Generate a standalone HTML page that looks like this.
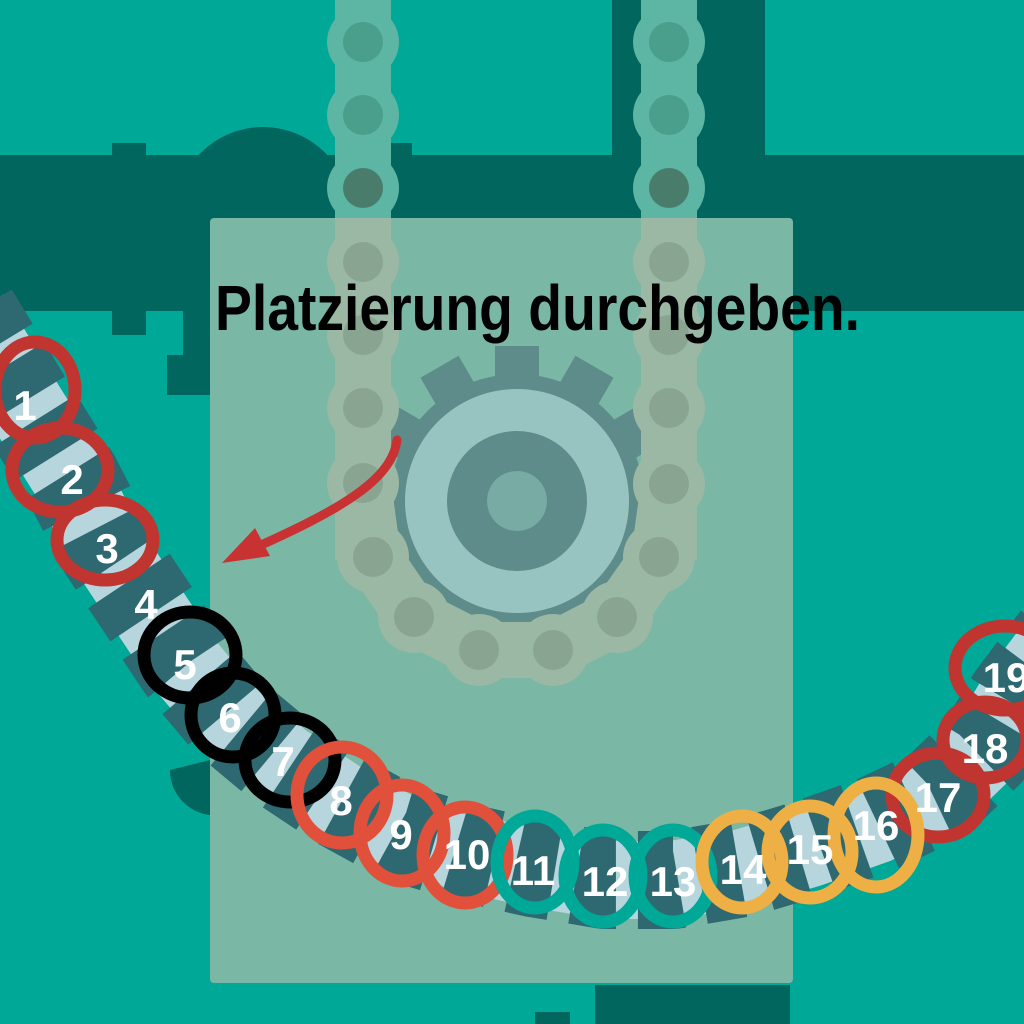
<!DOCTYPE html>
<html><head><meta charset="utf-8"><style>
html,body{margin:0;padding:0;background:#00a898;}
svg{display:block}
</style></head><body>
<svg width="1024" height="1024" viewBox="0 0 1024 1024" xmlns="http://www.w3.org/2000/svg">
<defs>
<clipPath id="pc"><rect x="210" y="218" width="583" height="765" rx="4"/></clipPath>
</defs>
<rect width="1024" height="1024" fill="#00a898"/>
<!-- pipes -->
<g fill="#00665e">
<rect x="0" y="155" width="1024" height="156"/>
<rect x="612" y="0" width="153" height="160"/>
<circle cx="263" cy="215" r="88"/>
<rect x="112" y="143" width="34" height="192"/>
<rect x="378" y="143" width="34" height="192"/>
<rect x="183" y="300" width="30" height="60"/>
<rect x="167" y="355" width="45" height="40"/>
<rect x="595" y="985" width="195" height="39"/>
<rect x="535" y="1012" width="35" height="12"/>
<path d="M170,770 A45,45 0 0 0 210,815 L210,760 Z"/>
</g>
<!-- chain top (outside panel) -->
<g fill="#5db5a3">
<rect x="335" y="0" width="56" height="560"/>
<rect x="641" y="0" width="56" height="560"/>
<circle cx="363" cy="42" r="36"/><circle cx="363" cy="115" r="36"/><circle cx="363" cy="188" r="36"/>
<circle cx="669" cy="42" r="36"/><circle cx="669" cy="115" r="36"/><circle cx="669" cy="188" r="36"/>
</g>
<g fill="#4a9e8c">
<circle cx="363" cy="42" r="20"/><circle cx="363" cy="115" r="20"/><circle cx="363" cy="188" r="20" fill="#4a7c6c"/>
<circle cx="669" cy="42" r="20"/><circle cx="669" cy="115" r="20"/><circle cx="669" cy="188" r="20" fill="#4a7c6c"/>
</g>
<!-- panel -->
<rect x="210" y="218" width="583" height="765" rx="4" fill="#7ab8a5"/>
<!-- gear -->
<g fill="#5e8c8a" transform="translate(517,501)">
<circle r="127"/>
<g id="t"><rect x="-22" y="-155" width="44" height="40"/></g>
<use href="#t" transform="rotate(30)"/><use href="#t" transform="rotate(60)"/><use href="#t" transform="rotate(90)"/>
<use href="#t" transform="rotate(120)"/><use href="#t" transform="rotate(150)"/><use href="#t" transform="rotate(180)"/>
<use href="#t" transform="rotate(210)"/><use href="#t" transform="rotate(240)"/><use href="#t" transform="rotate(270)"/>
<use href="#t" transform="rotate(300)"/><use href="#t" transform="rotate(330)"/>
<circle r="112" fill="#97c4c0"/>
<circle r="70" fill="#5e8c8a"/>
<circle r="30" fill="#77aba3"/>
</g>
<!-- chain in panel -->
<g clip-path="url(#pc)">
<rect x="335" y="0" width="56" height="560" fill="#9bb8a5"/>
<rect x="641" y="0" width="56" height="560" fill="#9bb8a5"/>
<path d="M363,483 L373,557 L414,617 L479,650 L553,650 L617,617 L659,557 L669,484" fill="none" stroke="#9bb8a5" stroke-width="56" stroke-linejoin="round"/>
<g fill="#9bb8a5">
<circle cx="363" cy="188" r="36"/><circle cx="363" cy="262" r="36"/><circle cx="363" cy="335" r="36"/><circle cx="363" cy="408" r="36"/><circle cx="363" cy="483" r="36"/>
<circle cx="373" cy="557" r="36"/><circle cx="414" cy="617" r="36"/><circle cx="479" cy="650" r="36"/><circle cx="553" cy="650" r="36"/><circle cx="617" cy="617" r="36"/><circle cx="659" cy="557" r="36"/>
<circle cx="669" cy="188" r="36"/><circle cx="669" cy="262" r="36"/><circle cx="669" cy="335" r="36"/><circle cx="669" cy="408" r="36"/><circle cx="669" cy="484" r="36"/>
</g>
<g fill="#89a591">
<circle cx="363" cy="262" r="20"/><circle cx="363" cy="335" r="20"/><circle cx="363" cy="408" r="20"/><circle cx="363" cy="483" r="20"/>
<circle cx="373" cy="557" r="20"/><circle cx="414" cy="617" r="20"/><circle cx="479" cy="650" r="20"/><circle cx="553" cy="650" r="20"/><circle cx="617" cy="617" r="20"/><circle cx="659" cy="557" r="20"/>
<circle cx="669" cy="262" r="20"/><circle cx="669" cy="335" r="20"/><circle cx="669" cy="408" r="20"/><circle cx="669" cy="484" r="20"/>
</g>
</g>
<!-- title -->
<text x="215" y="330" font-family="Liberation Sans, sans-serif" font-weight="bold" font-size="64" fill="#000" textLength="645" lengthAdjust="spacingAndGlyphs">Platzierung durchgeben.</text>
<!-- arrow -->
<path d="M397,440 C392,480 340,510 250,550" fill="none" stroke="#c83232" stroke-width="9" stroke-linecap="round"/>
<polygon points="222,563 255,528 270,556" fill="#c83232"/>
<!-- track -->
<polyline points="-30,315 25,405 72,480 107,548 145,605 185,665 230,718 283,762 340,800 400,833 467,853 533,868 605,880 673,880 743,868 810,848 875,825 938,795 985,750 1015,700 1060,640" fill="none" stroke="#b7d5dc" stroke-width="78" stroke-linejoin="round"/>
<polyline points="-30,315 25,405 72,480 107,548 145,605 185,665 230,718 283,762 340,800 400,833 467,853 533,868 605,880 673,880 743,868 810,848 875,825 938,795 985,750 1015,700 1060,640" fill="none" stroke="#2e6870" stroke-width="98" stroke-dasharray="40 22" stroke-linejoin="round"/>
<!-- loops -->
<g fill="none" stroke-width="13">
<g stroke="#c03530">
<ellipse cx="35" cy="390" rx="40" ry="48"/>
<ellipse cx="60" cy="470" rx="48" ry="42"/>
<ellipse cx="105" cy="540" rx="48" ry="40"/>
<ellipse cx="938" cy="795" rx="46" ry="42"/>
<ellipse cx="985" cy="740" rx="42" ry="38"/>
<ellipse cx="1005" cy="668" rx="50" ry="42"/>
</g>
<g stroke="#000">
<ellipse cx="190" cy="655" rx="46" ry="43"/>
<ellipse cx="233" cy="715" rx="42" ry="42"/>
<ellipse cx="290" cy="760" rx="45" ry="42"/>
</g>
<g stroke="#e0503a">
<ellipse cx="342" cy="795" rx="45" ry="48"/>
<ellipse cx="402" cy="833" rx="42" ry="48"/>
<ellipse cx="465" cy="855" rx="42" ry="48"/>
</g>
<g stroke="#00a898">
<ellipse cx="535" cy="862" rx="38" ry="46"/>
<ellipse cx="603" cy="876" rx="38" ry="46"/>
<ellipse cx="673" cy="876" rx="38" ry="46"/>
</g>
<g stroke="#eeb044">
<ellipse cx="742" cy="862" rx="40" ry="46"/>
<ellipse cx="810" cy="852" rx="42" ry="46"/>
<ellipse cx="876" cy="835" rx="42" ry="52"/>
</g>
</g>
<!-- numbers -->
<g font-family="Liberation Sans, sans-serif" font-weight="bold" font-size="42" fill="#fff" text-anchor="middle">
<text x="25" y="420">1</text><text x="72" y="494">2</text><text x="107" y="563">3</text><text x="146" y="619">4</text>
<text x="185" y="679">5</text><text x="230" y="732">6</text><text x="283" y="776">7</text><text x="341" y="815">8</text>
<text x="401" y="849">9</text><text x="467" y="869">10</text><text x="533" y="885">11</text><text x="605" y="896">12</text>
<text x="673" y="896">13</text><text x="743" y="884">14</text><text x="810" y="864">15</text><text x="876" y="840">16</text>
<text x="938" y="812">17</text><text x="985" y="763">18</text><text x="1006" y="692">19</text>
</g>
</svg>
</body></html>
